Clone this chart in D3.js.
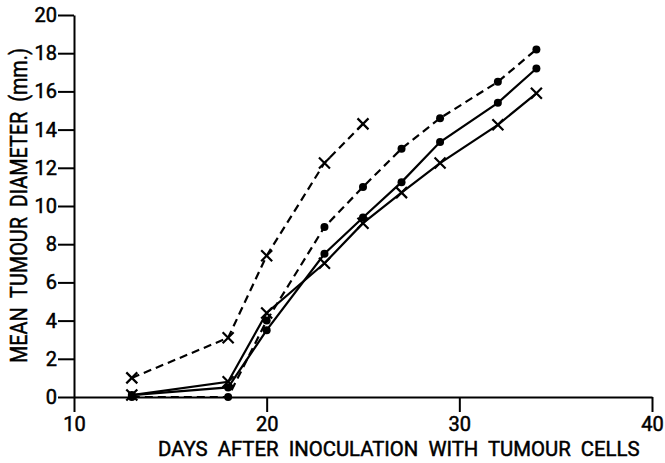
<!DOCTYPE html>
<html lang="en">
<head>
<meta charset="UTF-8">
<title>Mean tumour diameter</title>
<style>
  body { margin: 0; padding: 0; background: #fff; }
  svg { display: block; }
  .axis text { font-family: 'Roboto', 'DejaVu Sans', sans-serif; font-size: 20px; fill: #000; stroke: #000; stroke-width: 0.5px; }
  .axis path, .axis line { stroke: #000; stroke-width: 2px; }
  .title { font-family: 'Roboto', 'DejaVu Sans', sans-serif; fill: #000; stroke: #000; stroke-width: 0.5px; white-space: pre; }
</style>
</head>
<body>
<div id="chart"></div>
<script src="https://d3js.org/d3.v7.min.js"></script>
<script>
// days after inoculation
const days = [13, 18, 20, 23, 25, 27, 29, 32, 34];
const daysShort = [13, 18, 20, 23, 25];

// mean diameters (mm)
const dashedCross = [1.0, 3.1, 7.4, 12.25, 14.3];
const dashedDot = [0, 0, 4.0, 8.9, 11.0, 13.0, 14.6, 16.5, 18.2];
const solidDot = [0.1, 0.5, 3.5, 7.5, 9.4, 11.25, 13.35, 15.4, 17.2];
const solidCross = [0.1, 0.8, 4.4, 7.0, 9.1, 10.7, 12.25, 14.25, 15.9];

const xTicks = [10, 20, 30, 40];
const yTicks = [0, 2, 4, 6, 8, 10, 12, 14, 16, 18, 20];

const width = 665, height = 463;

const svg = d3.select("#chart").append("svg")
    .attr("width", width)
    .attr("height", height);

const x = d3.scaleLinear().domain([10, 40]).range([74, 652]);
const y = d3.scaleLinear().domain([0, 20]).range([397, 15]);

// axes
svg.append("g")
    .attr("class", "axis")
    .attr("transform", `translate(0,${y(0)})`)
    .call(d3.axisBottom(x).tickValues(xTicks).tickSize(15).tickSizeOuter(0).tickPadding(5))
    .call(g => g.selectAll("text").attr("dy", "0.71em"));

svg.append("g")
    .attr("class", "axis")
    .attr("transform", `translate(${x(10)},0)`)
    .call(d3.axisLeft(y).tickValues(yTicks).tickSize(16).tickSizeOuter(0).tickPadding(1));

// axis titles, squeezed horizontally to mimic the narrow lettering
function squeezedTitle(label, size, targetLen, tx, ty, rot) {
  const t = svg.append("text")
      .attr("class", "title")
      .attr("font-size", size)
      .text(label);
  const k = Math.min(1, targetLen / t.node().getComputedTextLength());
  t.attr("transform", `translate(${tx},${ty}) rotate(${rot}) scale(${k},1)`);
}

squeezedTitle("DAYS  AFTER  INOCULATION  WITH  TUMOUR  CELLS", 21, 482, 158, 456, 0);
squeezedTitle("MEAN  TUMOUR  DIAMETER  (mm.)", 23, 315, 27, 363, -90);

const line = d3.line().x(d => x(d[0])).y(d => y(d[1]));

const series = [
  { xs: daysShort, ys: dashedCross, dash: "8,5", mark: "cross" },
  { xs: days, ys: dashedDot, dash: "8,5", mark: "dot" },
  { xs: days, ys: solidDot, dash: null, mark: "dot" },
  { xs: days, ys: solidCross, dash: null, mark: "cross" }
];

series.forEach(s => {
  const pts = s.xs.map((d, i) => [d, s.ys[i]]);
  svg.append("path")
      .datum(pts)
      .attr("d", line)
      .attr("fill", "none")
      .attr("stroke", "#000")
      .attr("stroke-width", 2.2)
      .attr("stroke-dasharray", s.dash);

  if (s.mark === "dot") {
    svg.append("g").selectAll("circle")
        .data(pts)
        .join("circle")
        .attr("cx", d => x(d[0]))
        .attr("cy", d => y(d[1]))
        .attr("r", 4)
        .attr("fill", "#000");
  } else {
    svg.append("g").selectAll("path")
        .data(pts)
        .join("path")
        .attr("d", "M-5.5,-5.5L5.5,5.5M-5.5,5.5L5.5,-5.5")
        .attr("transform", d => `translate(${x(d[0])},${y(d[1])})`)
        .attr("stroke", "#000")
        .attr("stroke-width", 2.2)
        .attr("fill", "none");
  }
});
</script>
</body>
</html>
